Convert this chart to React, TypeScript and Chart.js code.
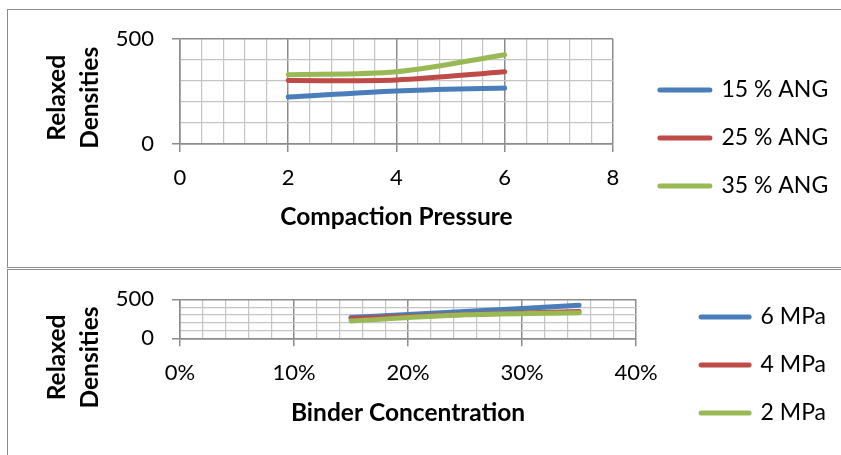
import React, { useEffect, useRef } from "react";
import { Chart, registerables } from "chart.js";

Chart.register(...registerables);

// ---------- data ----------
const pressures = [2, 4, 6];
const ang15 = [223, 252, 266];
const ang25 = [301, 304, 343];
const ang35 = [329, 343, 424];
const angLabels = ["15 % ANG", "25 % ANG", "35 % ANG"];

const binderConc = [0.15, 0.25, 0.35];
const mpa6 = [266, 343, 424];
const mpa4 = [252, 304, 343];
const mpa2 = [223, 301, 329];
const mpaLabels = ["6 MPa", "4 MPa", "2 MPa"];

const yTitleLines = ["Relaxed", "Densities"];
const topXTitle = "Compaction Pressure";
const bottomXTitle = "Binder Concentration";

const seriesColors = ["#4A7EBB", "#BE4B48", "#98B954"];

// ---------- styling ----------
const FONT = "Lato";
const MAJOR = "#8c8c8c";
const MINOR = "#c4c4c4";

Chart.defaults.font.family = FONT;
Chart.defaults.color = "#000";

const yTitlePlugin = {
  id: "yTitle",
  afterDraw(chart: any, _args: any, opts: any) {
    const ctx = chart.ctx as CanvasRenderingContext2D;
    ctx.save();
    ctx.font = `bold ${opts.size}px ${FONT}`;
    ctx.fillStyle = "#000";
    ctx.textAlign = "center";
    ctx.textBaseline = "middle";
    (opts.lines as string[]).forEach((line, i) => {
      ctx.save();
      ctx.translate(opts.x[i], opts.y);
      ctx.rotate(-Math.PI / 2);
      ctx.fillText(line, 0, 0);
      ctx.restore();
    });
    ctx.restore();
  },
};

type Cfg = {
  xValues: number[];
  series: number[][];
  labels: string[];
  xMax: number;
  xStep: number;
  isMajor: (v: number) => boolean;
  fmt: (v: number) => string;
  xTitle: string;
  padRight: number;
  spacer: number;
  xScaleHeight: number;
  xTitlePad: number;
  legendPad: number;
  legendStyle: string;
  legendBox: number;
  legendLineHeight: number;
  yTitleX: number[];
  yTitleY: number;
};

function buildConfig(c: Cfg): any {
  const datasets = c.series.map((vals, i) => ({
    label: c.labels[i],
    data: vals.map((v, j) => ({ x: c.xValues[j], y: v })),
    borderColor: seriesColors[i],
    backgroundColor: seriesColors[i],
    borderWidth: 5,
    borderCapStyle: "round",
    borderJoinStyle: "round",
    tension: 0.3,
    pointRadius: 0,
    pointHoverRadius: 0,
    fill: false,
    order: c.series.length - i,
  }));
  return {
    type: "line",
    data: { datasets },
    plugins: [yTitlePlugin],
    options: {
      responsive: false,
      maintainAspectRatio: false,
      animation: false,
      events: [],
      layout: { padding: { left: 0, top: 0, right: c.padRight, bottom: 0 } },
      scales: {
        x: {
          type: "linear",
          min: 0,
          max: c.xMax,
          afterFit: (s: any) => {
            s.height = c.xScaleHeight;
          },
          ticks: {
            stepSize: c.xStep,
            autoSkip: false,
            maxRotation: 0,
            padding: 13,
            font: { size: 22 },
            color: "#000",
            callback: (v: any) => (c.isMajor(Number(v)) ? c.fmt(Number(v)) : ""),
          },
          grid: {
            color: (ctx: any) => (c.isMajor(ctx.tick.value) ? MAJOR : MINOR),
            lineWidth: (ctx: any) => (c.isMajor(ctx.tick.value) ? 1.5 : 1.2),
            tickColor: (ctx: any) => (c.isMajor(ctx.tick.value) ? MAJOR : "rgba(0,0,0,0)"),
            tickLength: 8,
          },
          border: { color: MAJOR, width: 1.5 },
          title: {
            display: true,
            text: c.xTitle,
            color: "#000",
            font: { size: 24.5, weight: "bold" },
            padding: { top: 0, bottom: c.xTitlePad },
          },
        },
        y: {
          type: "linear",
          min: 0,
          max: 500,
          afterFit: (s: any) => {
            s.width = 180;
          },
          ticks: {
            stepSize: 100,
            autoSkip: false,
            padding: 18,
            font: { size: 22 },
            color: "#000",
            callback: (v: any) => (Number(v) % 500 === 0 ? String(v) : ""),
          },
          grid: {
            color: (ctx: any) => (ctx.tick.value % 500 === 0 ? MAJOR : MINOR),
            lineWidth: (ctx: any) => (ctx.tick.value % 500 === 0 ? 1.5 : 1.2),
            tickColor: (ctx: any) => (ctx.tick.value % 500 === 0 ? MAJOR : "rgba(0,0,0,0)"),
            tickLength: 8,
          },
          border: { color: MAJOR, width: 1.5 },
        },
      },
      plugins: {
        title: {
          display: true,
          text: "",
          font: { size: 10, lineHeight: "10px" },
          padding: { top: c.spacer - 10, bottom: 0 },
        },
        tooltip: { enabled: false },
        legend: {
          display: true,
          position: "right",
          align: "center",
          maxWidth: 400,
          labels: {
            usePointStyle: true,
            pointStyle: c.legendStyle,
            pointStyleWidth: c.legendBox,
            padding: c.legendPad,
            color: "#000",
            font: { size: 23, lineHeight: `${c.legendLineHeight}px` },
            generateLabels: (chart: any) => {
              const items = Chart.defaults.plugins.legend.labels.generateLabels(chart);
              items.sort((a: any, b: any) => a.datasetIndex - b.datasetIndex);
              return items.map((it: any) => ({
                ...it,
                text: [it.text],
                lineWidth: 5,
                lineCap: "round",
                strokeStyle: seriesColors[it.datasetIndex],
                fillStyle: seriesColors[it.datasetIndex],
              }));
            },
          },
        },
        yTitle: { lines: yTitleLines, x: c.yTitleX, y: c.yTitleY, size: 24.5 },
      },
    },
  };
}

const TOP_CANVAS = { top: 0, height: 254 };
const BOTTOM_CANVAS = { top: 266, height: 206 };

const topCfg: Cfg = {
  xValues: pressures,
  series: [ang15, ang25, ang35],
  labels: angLabels,
  xMax: 8,
  xStep: 0.4,
  isMajor: (v) => Math.abs(v / 2 - Math.round(v / 2)) < 1e-6,
  fmt: (v) => String(Math.round(v)),
  xTitle: topXTitle,
  padRight: 2.8,
  spacer: 38.7,
  xScaleHeight: 110,
  xTitlePad: 21.8,
  legendPad: 47,
  legendStyle: "line",
  legendBox: 50,
  legendLineHeight: 1,
  yTitleX: [57.2, 90.5],
  yTitleY: 97.8,
};

const bottomCfg: Cfg = {
  xValues: binderConc,
  series: [mpa6, mpa4, mpa2],
  labels: mpaLabels,
  xMax: 0.4,
  xStep: 0.02,
  isMajor: (v) => Math.round(v * 100) % 10 === 0,
  fmt: (v) => `${Math.round(v * 100)}%`,
  xTitle: bottomXTitle,
  padRight: 4.95,
  spacer: 299.3 - BOTTOM_CANVAS.top,
  xScaleHeight: BOTTOM_CANVAS.top + BOTTOM_CANVAS.height - 338.3,
  xTitlePad: BOTTOM_CANVAS.top + BOTTOM_CANVAS.height - 14.7 - 412.8,
  legendPad: 17,
  legendStyle: "dash",
  legendBox: 96,
  legendLineHeight: 31,
  yTitleX: [57.2, 90.5],
  yTitleY: 357.5 - BOTTOM_CANVAS.top,
};

function ChartCanvas({ cfg, top, height }: { cfg: Cfg; top: number; height: number }) {
  const ref = useRef<HTMLCanvasElement>(null);
  useEffect(() => {
    if (!ref.current) return;
    const chart = new Chart(ref.current, buildConfig(cfg));
    return () => chart.destroy();
  }, [cfg]);
  return (
    <canvas
      ref={ref}
      width={841}
      height={height}
      style={{ position: "absolute", left: 0, top, width: 841, height }}
    />
  );
}

export default function App() {
  return (
    <div
      style={{
        position: "absolute",
        left: 0,
        top: 0,
        width: 841,
        height: 455,
        overflow: "hidden",
        background: "#fff",
      }}
    >
      <div
        style={{
          position: "absolute",
          left: 7,
          top: 9,
          width: 900,
          height: 259,
          boxSizing: "border-box",
          border: "1px solid #8c8c8c",
        }}
      />
      <div
        style={{
          position: "absolute",
          left: 7,
          top: 269,
          width: 900,
          height: 300,
          boxSizing: "border-box",
          border: "1px solid #8c8c8c",
        }}
      />
      <ChartCanvas cfg={topCfg} top={TOP_CANVAS.top} height={TOP_CANVAS.height} />
      <ChartCanvas cfg={bottomCfg} top={BOTTOM_CANVAS.top} height={BOTTOM_CANVAS.height} />
    </div>
  );
}
